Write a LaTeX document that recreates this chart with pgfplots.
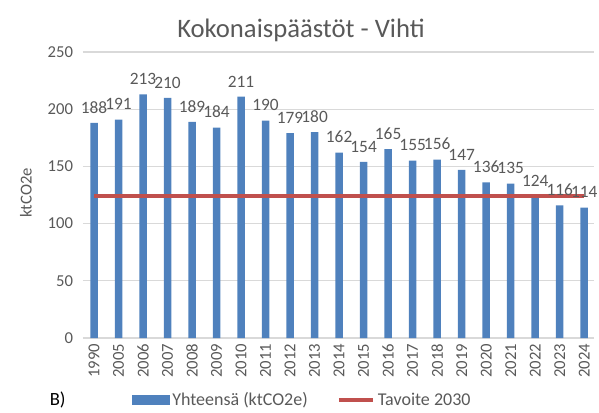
\documentclass[border=0pt]{standalone}
\usepackage{pgfplots}
\pgfplotsset{compat=1.18}
\usepackage{fontspec}
\setmainfont{Carlito}
\definecolor{txt}{HTML}{595959}
\definecolor{barblue}{HTML}{4F81BD}
\definecolor{goalred}{HTML}{C0504D}
\definecolor{gridc}{HTML}{D9D9D9}
\begin{document}
\begin{tikzpicture}
\useasboundingbox (-62.25pt,-55.5pt) rectangle (387pt,253.5pt);
\begin{axis}[
  at={(0,0)}, anchor=south west,
  scale only axis,
  width=383.25pt, height=214.5pt,
  xmin=-0.45, xmax=20.4,
  ymin=0, ymax=250,
  ytick={0,50,100,150,200,250},
  xtick={0,...,20},
  xticklabels={1990,2005,2006,2007,2008,2009,2010,2011,2012,2013,2014,2015,2016,2017,2018,2019,2020,2021,2022,2023,2024},
  x tick label style={rotate=90, anchor=east, font=\fontsize{12.5}{14}\selectfont, text=txt, xshift=-1pt},
  y tick label style={font=\fontsize{12.5}{14}\selectfont, text=txt, xshift=-4pt},
  /pgf/number format/assume math mode=true,
  major tick length=0pt,
  axis line style={draw=none},
  ymajorgrids, grid style={gridc, line width=0.8pt},
  clip=false,
  legend style={at={(0.43,-0.217)}, anchor=center, draw=none, fill=none,
    legend columns=2, font=\fontsize{13.5}{15}\selectfont, text=txt,
    /tikz/every even column/.append style={column sep=20pt}},
]
\addplot[ybar, bar width=5.6pt, fill=barblue, draw=none,
  nodes near coords, every node near coord/.append style={font=\fontsize{13}{14}\selectfont, text=txt, inner sep=1pt, yshift=6pt},
  legend image code/.code={\fill[barblue] (0pt,-3.5pt) rectangle (28pt,3.5pt);}]
coordinates {(0,188) (1,191) (2,213) (3,210) (4,189) (5,184) (6,211) (7,190) (8,179) (9,180) (10,162) (11,154) (12,165) (13,155) (14,156) (15,147) (16,136) (17,135) (18,124) (19,116) (20,114)};
\addlegendentry{Yhteensä (ktCO2e)}
\addplot[goalred, line width=2.6pt, mark=none,
  legend image code/.code={\draw[goalred, line width=2.6pt] (0pt,0pt) -- (26pt,0pt);}]
coordinates {(0,124) (1,124) (2,124) (3,124) (4,124) (5,124) (6,124) (7,124) (8,124) (9,124) (10,124) (11,124) (12,124) (13,124) (14,124) (15,124) (16,124) (17,124) (18,124) (19,124) (20,124)};
\addlegendentry{Tavoite 2030}
\end{axis}
\node[text=txt, font=\fontsize{20}{22}\selectfont] at (163.5pt,231pt) {Kokonaispäästöt - Vihti};
\node[text=txt, font=\fontsize{12.5}{14}\selectfont, rotate=90] at (-42.75pt,108.75pt) {ktCO2e};
\node[text=black, font=\fontsize{14}{15}\selectfont] at (-19pt,-46.5pt) {B)};
\end{tikzpicture}
\end{document}
